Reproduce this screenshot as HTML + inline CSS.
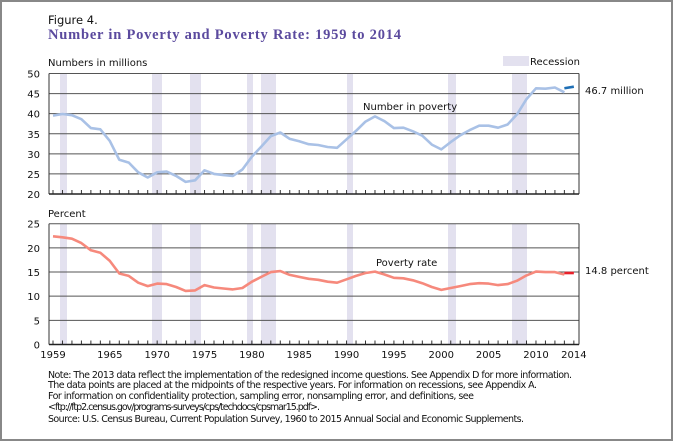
<!DOCTYPE html>
<html><head><meta charset="utf-8"><style>
html,body{margin:0;padding:0;background:#fff;width:674px;height:442px;overflow:hidden}
svg{display:block;font-family:"DejaVu Sans","Liberation Sans",sans-serif}
</style></head><body>
<svg id="s" width="674" height="442" viewBox="0 0 674 442" xmlns="http://www.w3.org/2000/svg">
<rect x="1" y="1" width="671" height="439" fill="#fff" stroke="#888" stroke-width="2"/>
<text x="48" y="24" font-size="11.5" fill="#111">Figure 4.</text>
<text x="48" y="39" font-size="14.5" font-weight="bold" fill="#5b4a9e" font-family="Liberation Serif, serif" textLength="353">Number in Poverty and Poverty Rate: 1959 to 2014</text>
<text x="48" y="66" font-size="10" fill="#111">Numbers in millions</text>
<rect x="503" y="56" width="26" height="10" fill="#e3e1ef"/>
<text x="530" y="65" font-size="10" fill="#111">Recession</text>
<text x="48" y="217" font-size="10" fill="#111">Percent</text>
<g id="g"></g>
<text x="585" y="94" font-size="10" fill="#111">46.7 million</text>
<text x="585" y="274" font-size="10" fill="#111">14.8 percent</text>
<text x="363" y="110" font-size="10" fill="#111">Number in poverty</text>
<text x="376" y="266" font-size="10" fill="#111">Poverty rate</text>
<g font-size="9.5" fill="#111">
<text x="48" y="378" textLength="524">Note: The 2013 data reflect the implementation of the redesigned income questions. See Appendix D for more information.</text>
<text x="48" y="388" textLength="489">The data points are placed at the midpoints of the respective years. For information on recessions, see Appendix A.</text>
<text x="48" y="399" textLength="426">For information on confidentiality protection, sampling error, nonsampling error, and definitions, see</text>
<text x="48" y="410" textLength="272">&lt;ftp://ftp2.census.gov/programs-surveys/cps/techdocs/cpsmar15.pdf&gt;.</text>
<text x="48" y="422" textLength="476">Source: U.S. Census Bureau, Current Population Survey, 1960 to 2015 Annual Social and Economic Supplements.</text>
</g>
</svg>
<script>
var g=document.getElementById('g'),h='';
function X(y){return 53+(y-1959)*9.47;}
var L=49,R=579;
var rec=[[60,67],[152,162],[190,201],[247,253],[261,276],[347,353],[448,456],[512,527]];
function panel(top,bot,vals){
  rec.forEach(function(r){h+='<rect x="'+r[0]+'" y="'+top+'" width="'+(r[1]-r[0])+'" height="'+(bot-top)+'" fill="#e3e1ef"/>';});
  var n=vals.length-1;
  vals.forEach(function(v,i){var y=top+(bot-top)*(1-i/n);
    h+='<line x1="'+L+'" x2="'+R+'" y1="'+y+'" y2="'+y+'" stroke="#555" stroke-width="1"/>';
    h+='<text x="40" y="'+(y+4)+'" font-size="10" text-anchor="end" fill="#111">'+v+'</text>';});
  h+='<line x1="'+L+'" x2="'+L+'" y1="'+top+'" y2="'+bot+'" stroke="#333"/><line x1="'+R+'" x2="'+R+'" y1="'+top+'" y2="'+bot+'" stroke="#333"/>';
  for(var yr=1959;yr<=2014;yr++){var x=X(yr);h+='<line x1="'+x+'" x2="'+x+'" y1="'+(bot-4)+'" y2="'+bot+'" stroke="#333"/>';}
  h+='<line x1="'+L+'" x2="'+R+'" y1="'+bot+'" y2="'+bot+'" stroke="#222" stroke-width="1.5"/>';
}
panel(73.5,194,[20,25,30,35,40,45,50]);
panel(223.7,344.5,[0,5,10,15,20,25]);
var num=[39.5,39.9,39.6,38.6,36.4,36.1,33.2,28.5,27.8,25.4,24.1,25.4,25.6,24.5,23.0,23.4,25.9,25.0,24.7,24.5,26.1,29.3,31.8,34.4,35.3,33.7,33.1,32.4,32.2,31.7,31.5,33.6,35.7,38.0,39.3,38.1,36.4,36.5,35.6,34.5,32.3,31.1,32.9,34.6,35.9,37.0,37.0,36.5,37.3,39.8,43.6,46.3,46.2,46.5,45.3];
var rate=[22.4,22.2,21.9,21.0,19.5,19.0,17.3,14.7,14.2,12.8,12.1,12.6,12.5,11.9,11.1,11.2,12.3,11.8,11.6,11.4,11.7,13.0,14.0,15.0,15.2,14.4,14.0,13.6,13.4,13.0,12.8,13.5,14.2,14.8,15.1,14.5,13.8,13.7,13.3,12.7,11.9,11.3,11.7,12.1,12.5,12.7,12.6,12.3,12.5,13.2,14.3,15.1,15.0,15.0,14.5];
function yN(v){return 194-(v-20)*4.02;}
function yR(v){return 344.5-v*4.83;}
function path(a,f){return a.map(function(v,i){return (i?'L':'M')+X(1959+i).toFixed(1)+','+f(v).toFixed(1);}).join('');}
h+='<path d="'+path(num,yN)+'" fill="none" stroke="#a9c1e6" stroke-width="2.6" stroke-linejoin="round"/>';
h+='<path d="M'+X(2013)+','+yN(46.3)+'L'+X(2014)+','+yN(46.7)+'" stroke="#1f6fb5" stroke-width="2.6"/>';
h+='<path d="'+path(rate,yR)+'" fill="none" stroke="#f6897c" stroke-width="2.6" stroke-linejoin="round"/>';
h+='<path d="M'+X(2013)+','+yR(14.8)+'L'+X(2014)+','+yR(14.8)+'" stroke="#e8202a" stroke-width="2.6"/>';
var lab=[[1959,'1959'],[1965,'1965'],[1970,'1970'],[1975,'1975'],[1980,'1980'],[1985,'1985'],[1990,'1990'],[1995,'1995'],[2000,'2000'],[2005,'2005'],[2010,'2010'],[2014,'2014']];
lab.forEach(function(l){h+='<text x="'+X(l[0])+'" y="358" font-size="10" text-anchor="middle" fill="#111">'+l[1]+'</text>';});
g.innerHTML=h;
</script>
</body></html>
